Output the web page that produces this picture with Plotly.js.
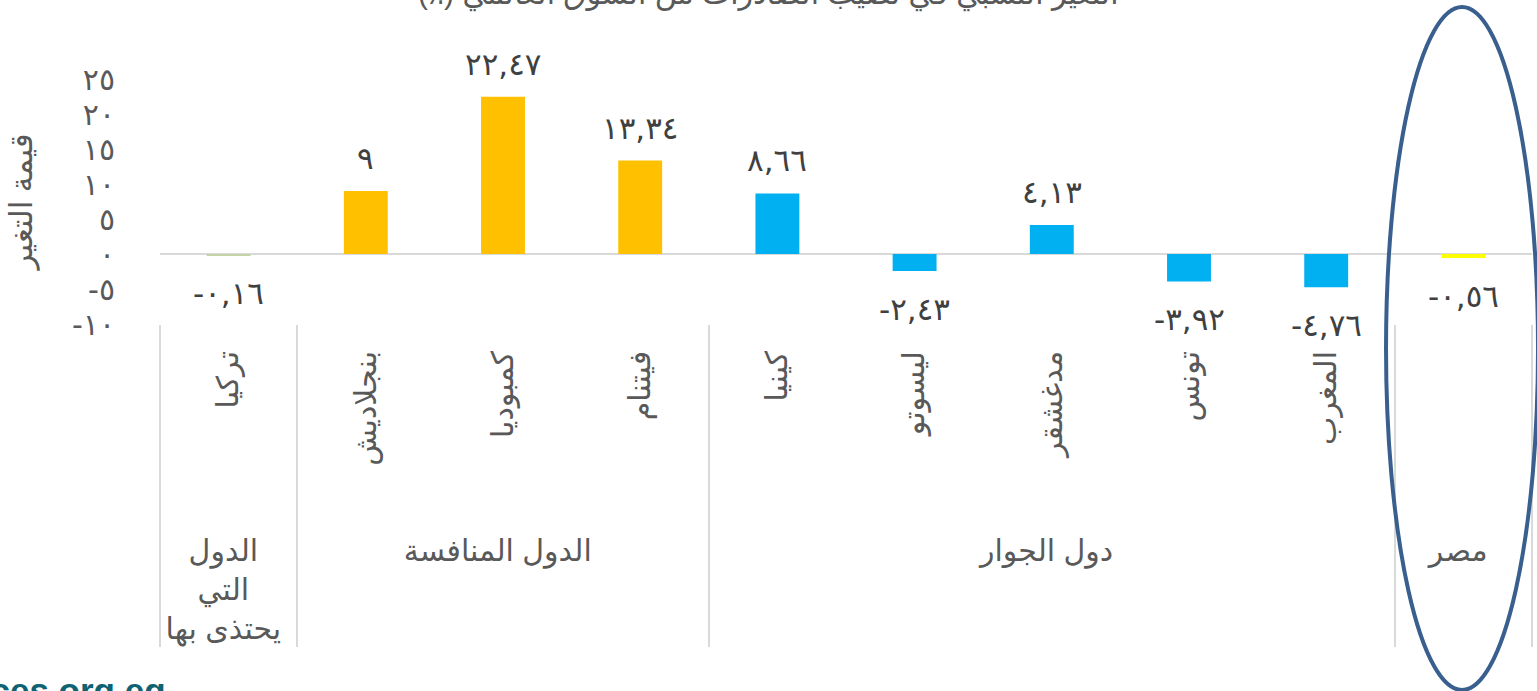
<!DOCTYPE html>
<html>
<head>
<meta charset="utf-8">
<script src="https://cdn.plot.ly/plotly-3.0.1.min.js"></script>
<style>html,body{margin:0;padding:0;background:#fff;}#chart{width:1537px;height:691px;}</style>
</head>
<body>
<div id="chart"></div>
<script>
// ---- data ----
var groups = ["الدول<br>التي<br>يحتذى بها", "الدول المنافسة", "الدول المنافسة", "الدول المنافسة",
              "دول الجوار", "دول الجوار", "دول الجوار", "دول الجوار", "دول الجوار", "مصر"];
var countries = ["تركيا", "بنجلاديش", "كمبوديا", "فيتنام", "كينيا", "ليسوتو", "مدغشقر", "تونس", "المغرب", " "];
var values = [-0.16, 9, 22.47, 13.34, 8.66, -2.43, 4.13, -3.92, -4.76, -0.56];
var barColors = ["#C4D4A6", "#FFC000", "#FFC000", "#FFC000", "#00B0F0", "#00B0F0", "#00B0F0", "#00B0F0", "#00B0F0", "#FFFF00"];
var yTickVals = [-10, -5, 0, 5, 10, 15, 20, 25];
var titleText = "التغير النسبي في نصيب الصادرات من السوق العالمي (٪)";
var yTitle = "قيمة التغير";
var siteText = "eces.org.eg";

function toArabic(v) {
  var d = "٠١٢٣٤٥٦٧٨٩";
  return String(v).replace(/[0-9]/g, function (c) { return d[+c]; }).replace(".", ",");
}
// leading no-break spaces extend each rotated label downward (spacing only)
var pad = "\u00A0\u00A0\u00A0\u00A0\u00A0\u00A0\u00A0";
var countryLabels = countries.map(function (c) { return pad + c; });

var annotations = values.map(function (v, i) {
  return {
    x: i, y: v, xref: "x", yref: "y",
    text: toArabic(v), showarrow: false,
    yanchor: "middle", yshift: v >= 0 ? 33 : -38,
    font: {family: "DejaVu Sans, Arial, sans-serif", size: 31, color: "#404040"}
  };
});
// partly hidden chart title (cut at the top edge like the source)
annotations.push({
  x: (768 - 160) / 1372, y: 1 + (79 + 5) / 245, xref: "paper", yref: "paper",
  xanchor: "center", yanchor: "middle", showarrow: false,
  text: titleText + "\u200F",
  font: {family: "Arial, DejaVu Sans, sans-serif", size: 30, color: "#595959"}
});
annotations.push({
  x: 0.0058, y: -1.495, xref: "paper", yref: "paper", xanchor: "right", yanchor: "middle",
  text: "<b>" + siteText + "</b>", showarrow: false,
  font: {family: "Arial, Liberation Sans, sans-serif", size: 35, color: "#0E6272"}
});

var trace = {
  type: "bar",
  x: [groups, countryLabels],
  y: values,
  width: 0.32,
  marker: {color: barColors},
  hoverinfo: "x+y"
};

var layout = {
  width: 1537, height: 691,
  margin: {l: 160, r: 5, t: 79, b: 367},
  paper_bgcolor: "#ffffff", plot_bgcolor: "#ffffff",
  showlegend: false,
  font: {family: "Arial, DejaVu Sans, sans-serif", color: "#595959"},
  xaxis: {
    type: "multicategory",
    tickangle: -90,
    showgrid: false, zeroline: false, showline: false, ticks: "",
    showdividers: true, dividercolor: "#D9D9D9", dividerwidth: 2,
    ticklabelstandoff: 20,
    tickfont: {family: "Arial, DejaVu Sans, sans-serif", size: 30, color: "#595959"},
    automargin: false
  },
  yaxis: {
    range: [-10, 25],
    tickvals: yTickVals,
    ticktext: yTickVals.map(toArabic),
    showgrid: false, showline: false, ticks: "",
    zeroline: true, zerolinecolor: "#D9D9D9", zerolinewidth: 2,
    ticklabelstandoff: 44,
    tickfont: {family: "DejaVu Sans, Arial, sans-serif", size: 30, color: "#595959"},
    title: {text: yTitle, standoff: 30, font: {family: "Arial, DejaVu Sans, sans-serif", size: 31, color: "#595959"}},
    automargin: false
  },
  annotations: annotations,
  shapes: [{
    type: "circle", xref: "paper", yref: "paper",
    x0: 0.8936, x1: 1.0044, y0: -1.4939, y1: 1.2939,
    line: {color: "#385F8E", width: 4}, fillcolor: "rgba(0,0,0,0)"
  }]
};

Plotly.newPlot("chart", [trace], layout, {displayModeBar: false, responsive: false});
</script>
</body>
</html>
